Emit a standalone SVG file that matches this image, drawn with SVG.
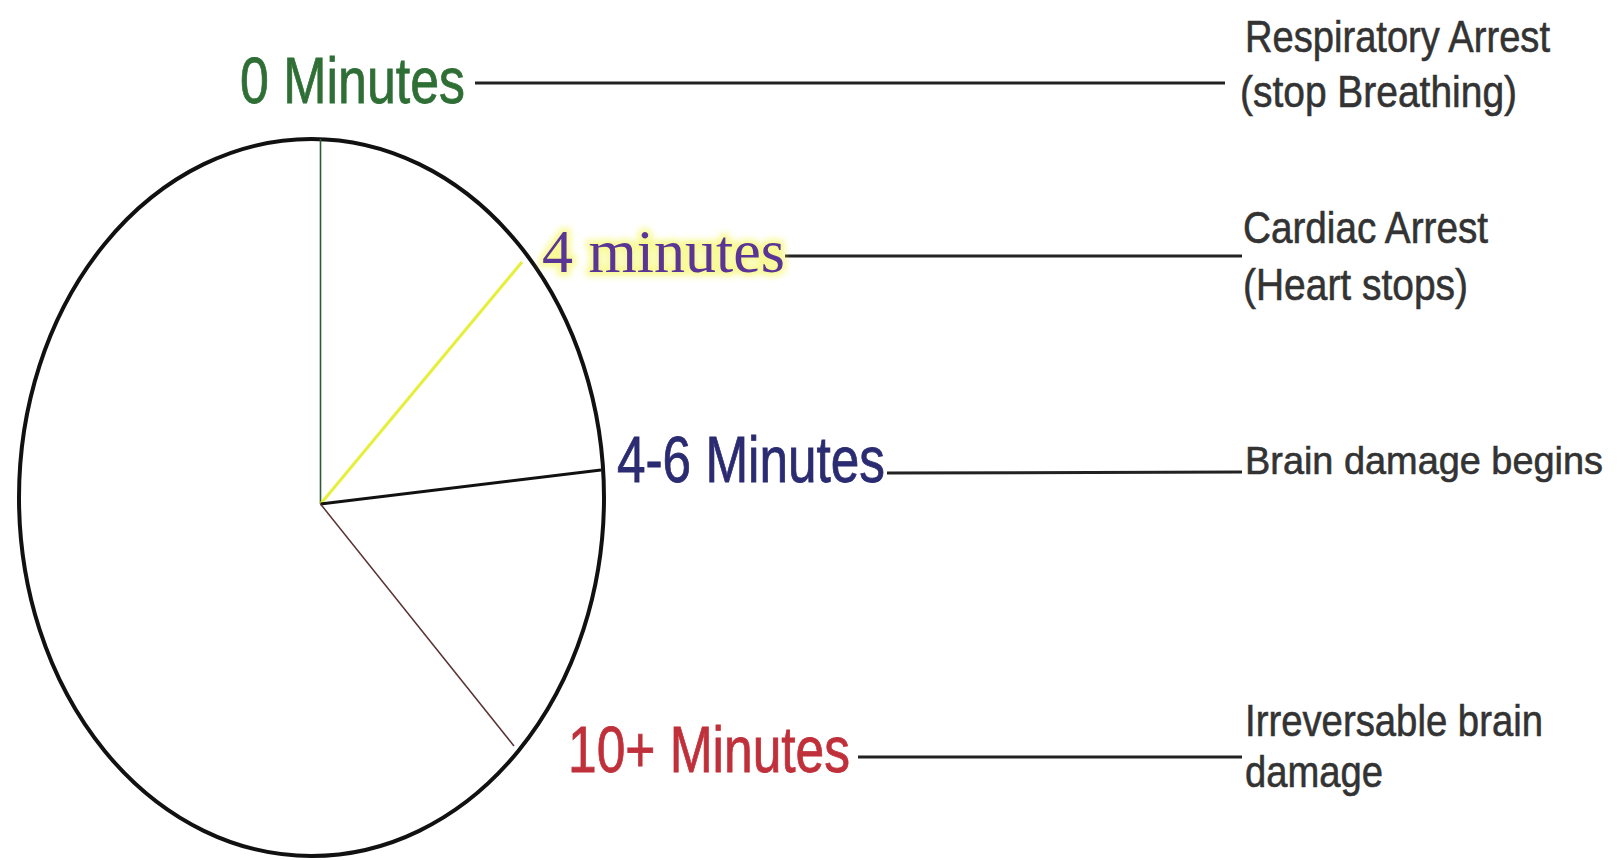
<svg xmlns="http://www.w3.org/2000/svg" width="1621" height="860" viewBox="0 0 1621 860">
<style>
.lbl{font-family:"Liberation Sans",Arial,sans-serif;font-size:64px;stroke-width:0.8;}
.desc{font-family:"Liberation Sans",Arial,sans-serif;font-size:45px;fill:#333;stroke:#333;stroke-width:0.6;}
.conn{stroke:#222;stroke-width:3;fill:none;}
</style>
<defs>
<filter id="glow" x="-10%" y="-30%" width="120%" height="160%"><feGaussianBlur stdDeviation="3"/></filter>
</defs>
<rect width="1621" height="860" fill="#fff"/>
<g id="clock">
<ellipse cx="311.5" cy="497.5" rx="292.5" ry="358.5" fill="none" stroke="#111" stroke-width="4"/>
<line x1="320.5" y1="139" x2="320.5" y2="504" stroke="#2d5a35" stroke-width="1.6"/>
<line x1="320.5" y1="504" x2="522" y2="262" stroke="#e6ef3a" stroke-width="3"/>
<line x1="320.5" y1="504" x2="601" y2="470" stroke="#111" stroke-width="3"/>
<line x1="320.5" y1="504" x2="514" y2="746" stroke="#5a3030" stroke-width="1.5"/>
</g>
<g id="connectors">
<line class="conn" x1="475" y1="83" x2="1225" y2="83"/>
<line class="conn" x1="785" y1="256" x2="1242" y2="256"/>
<line class="conn" x1="887" y1="473" x2="1242" y2="472"/>
<line class="conn" x1="858" y1="757" x2="1242" y2="757"/>
</g>
<g id="node-0min">
<text class="lbl" x="240" y="103" textLength="225" lengthAdjust="spacingAndGlyphs" fill="#2f6f36" stroke="#2f6f36">0 Minutes</text>
</g>
<g id="node-4min">
<text x="542" y="272" textLength="243" lengthAdjust="spacingAndGlyphs" font-family="'Liberation Serif','Times New Roman',serif" font-size="62" fill="none" stroke="#f2f53a" stroke-width="8" opacity="0.55" filter="url(#glow)">4 minutes</text>
<text x="542" y="272" textLength="243" lengthAdjust="spacingAndGlyphs" font-family="'Liberation Serif','Times New Roman',serif" font-size="62" fill="#5a3596">4 minutes</text>
</g>
<g id="node-46min">
<text class="lbl" x="617" y="482" textLength="268" lengthAdjust="spacingAndGlyphs" fill="#2b2b72" stroke="#2b2b72">4-6 Minutes</text>
</g>
<g id="node-10min">
<text class="lbl" x="568" y="772" textLength="282" lengthAdjust="spacingAndGlyphs" fill="#c0303a" stroke="#c0303a">10+ Minutes</text>
</g>
<g id="node-resp">
<text class="desc" x="1245" y="52" textLength="305" lengthAdjust="spacingAndGlyphs">Respiratory Arrest</text>
<text class="desc" x="1240" y="107" textLength="277" lengthAdjust="spacingAndGlyphs">(stop Breathing)</text>
</g>
<g id="node-cardiac">
<text class="desc" x="1243" y="243" textLength="245" lengthAdjust="spacingAndGlyphs">Cardiac Arrest</text>
<text class="desc" x="1243" y="300" textLength="225" lengthAdjust="spacingAndGlyphs">(Heart stops)</text>
</g>
<g id="node-brain">
<text class="desc" x="1245" y="474" font-size="39" style="font-size:39px" textLength="358" lengthAdjust="spacingAndGlyphs">Brain damage begins</text>
</g>
<g id="node-irrev">
<text class="desc" x="1245" y="736" textLength="298" lengthAdjust="spacingAndGlyphs">Irreversable brain</text>
<text class="desc" x="1245" y="787" textLength="138" lengthAdjust="spacingAndGlyphs">damage</text>
</g>
</svg>
